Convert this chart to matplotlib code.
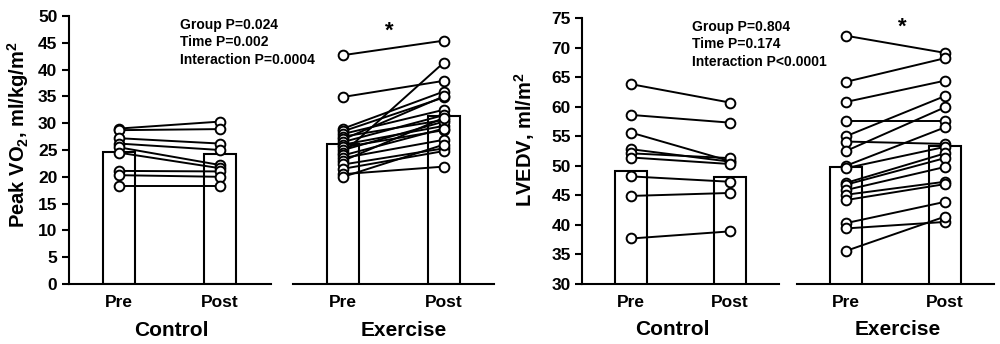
import matplotlib
matplotlib.use('Agg')
import matplotlib.pyplot as plt

plt.rcParams['font.family'] = ['Liberation Sans', 'DejaVu Sans']
plt.rcParams['font.weight'] = 'bold'
plt.rcParams['mathtext.fontset'] = 'custom'
plt.rcParams['mathtext.rm'] = 'Liberation Sans:bold'
plt.rcParams['mathtext.bf'] = 'Liberation Sans:bold'

# %% data
times = ['Pre', 'Post']
groups = ['Control', 'Exercise']

vo2_ctrl_pre = [29.0, 28.7, 27.2, 26.2, 25.5, 24.5, 21.1, 20.3, 18.2]
vo2_ctrl_post = [30.3, 28.9, 26.2, 25.0, 22.2, 21.6, 21.0, 20.0, 18.2]
vo2_ex_pre = [42.7, 34.9, 29.0, 28.5, 28.0, 27.5, 27.0, 26.5, 26.0, 25.5,
              25.0, 24.5, 24.0, 23.5, 23.0, 22.3, 21.5, 20.5, 20.0]
vo2_ex_post = [45.4, 37.9, 35.9, 34.8, 32.5, 30.6, 35.0, 31.5, 29.5, 28.7,
               30.3, 41.3, 29.0, 26.9, 31.0, 25.3, 24.8, 21.9, 26.0]
vo2_ctrl_bar = [24.7, 24.3]
vo2_ex_bar = [26.2, 31.4]

lv_ctrl_pre = [63.8, 58.6, 55.6, 52.8, 52.1, 51.4, 48.2, 44.9, 37.7]
lv_ctrl_post = [60.7, 57.3, 50.8, 50.7, 51.3, 50.3, 47.3, 45.4, 38.9]
lv_ex_pre = [72.0, 64.2, 60.8, 57.5, 55.0, 54.1, 52.5, 50.0, 49.6, 47.1,
             46.8, 45.9, 45.1, 44.2, 40.3, 39.4, 35.6]
lv_ex_post = [69.1, 68.2, 64.4, 57.5, 61.8, 53.7, 59.9, 56.5, 53.2, 52.1,
              51.3, 49.8, 47.3, 46.9, 43.9, 40.5, 41.4]
lv_ctrl_bar = [49.2, 48.1]
lv_ex_bar = [49.8, 53.3]

vo2_stats = ['Group P=0.024', 'Time P=0.002', 'Interaction P=0.0004']
lv_stats = ['Group P=0.804', 'Time P=0.174', 'Interaction P<0.0001']

# %%
W, H = 1000, 344
fig = plt.figure(figsize=(W / 100, H / 100), dpi=100)

def px_axes(left, top, width, height):
    return fig.add_axes([left / W, 1 - (top + height) / H, width / W, height / H])

def draw_group(ax, pre, post, bars, ylim, first):
    ax.bar([0, 1], bars, width=0.32, color='white', edgecolor='black', linewidth=1.5, zorder=1)
    for a, b in zip(pre, post):
        ax.plot([0, 1], [a, b], color='black', lw=1.4, zorder=2)
    ax.plot([0] * len(pre), pre, 'o', ms=7, mfc='white', mec='black', mew=1.4, zorder=3, clip_on=False)
    ax.plot([1] * len(post), post, 'o', ms=7, mfc='white', mec='black', mew=1.4, zorder=3, clip_on=False)
    ax.set_xlim(-0.5, 1.5)
    ax.set_ylim(*ylim)
    ax.set_xticks([0, 1])
    ax.set_xticklabels(times, fontsize=12.5, fontweight='bold')
    ax.tick_params(axis='x', length=0, pad=8)
    for s in ['top', 'right']:
        ax.spines[s].set_visible(False)
    ax.spines['bottom'].set_linewidth(1.5)
    if first:
        ax.spines['left'].set_linewidth(1.5)
        ax.tick_params(axis='y', direction='out', length=5, width=1.5, labelsize=12.5, pad=3)
    else:
        ax.spines['left'].set_visible(False)
        ax.set_yticks([])
    ax.patch.set_alpha(0)

# left panel: Peak VO2
ax1 = px_axes(68.5, 16, 202, 268)
draw_group(ax1, vo2_ctrl_pre, vo2_ctrl_post, vo2_ctrl_bar, (0, 50), True)
ax1.set_yticks(range(0, 51, 5))
ax2 = px_axes(293, 16, 201, 268)
draw_group(ax2, vo2_ex_pre, vo2_ex_post, vo2_ex_bar, (0, 50), False)

# right panel: LVEDV
ax3 = px_axes(582, 18, 197, 266)
draw_group(ax3, lv_ctrl_pre, lv_ctrl_post, lv_ctrl_bar, (30, 75), True)
ax3.set_yticks(range(30, 76, 5))
ax4 = px_axes(796.5, 18, 198, 266)
draw_group(ax4, lv_ex_pre, lv_ex_post, lv_ex_bar, (30, 75), False)

for ax in [ax1, ax3]:
    for t in ax.get_yticklabels():
        t.set_fontweight('bold')

# group names under the axes
for ax, name, xf in [(ax1, groups[0], 0.51), (ax2, groups[1], 0.55),
                     (ax3, groups[0], 0.46), (ax4, groups[1], 0.51)]:
    ax.text(xf, -0.172, name, transform=ax.transAxes, ha='center', va='center',
            fontsize=15, fontweight='bold')

def ftext(x, y, s, **kw):
    fig.text(x / W, 1 - y / H, s, **kw)

ftext(18, 135, 'Peak VO$_\\mathbf{2}$, ml/kg/m$^\\mathbf{2}$', rotation=90,
      ha='center', va='center', fontsize=14.5, fontweight='bold')
ftext(525, 140, 'LVEDV, ml/m$^\\mathbf{2}$', rotation=90,
      ha='center', va='center', fontsize=14.5, fontweight='bold')

for i, s in enumerate(vo2_stats):
    ftext(180, 25 + i * 17.5, s, ha='left', va='center', fontsize=10, fontweight='bold')
for i, s in enumerate(lv_stats):
    ftext(692, 27 + i * 17.5, s, ha='left', va='center', fontsize=10, fontweight='bold')

ftext(389, 31, '*', ha='center', va='center', fontsize=16, fontweight='bold')
ftext(902, 27, '*', ha='center', va='center', fontsize=16, fontweight='bold')

fig.savefig('out.png', dpi=100)
